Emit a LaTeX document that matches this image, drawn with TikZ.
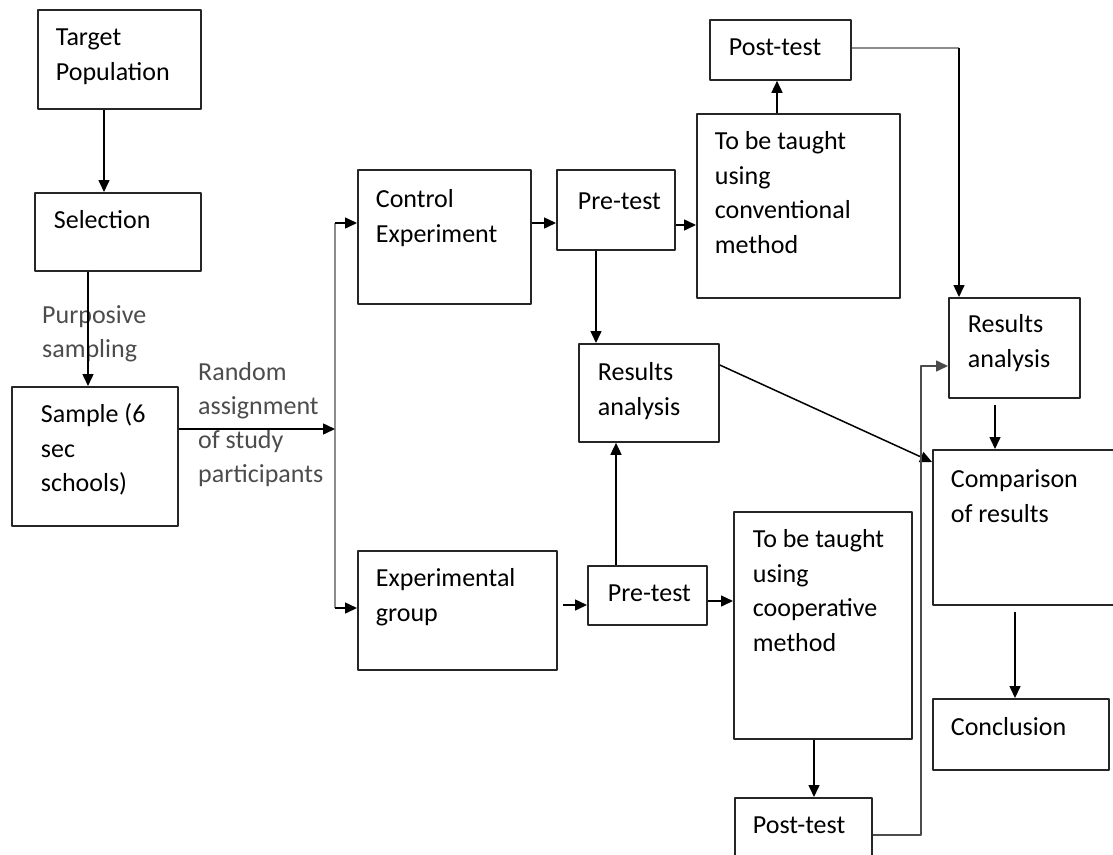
\documentclass[tikz,border=0pt]{standalone}
\usepackage{fontspec}
\setmainfont{Carlito}
\usetikzlibrary{arrows.meta}
\newcommand{\stagefont}{\fontsize{26}{34.5}\selectfont}
\newcommand{\notefont}{\fontsize{26}{34}\selectfont}
% width, height, left inset, first baseline, text
\newcommand{\stagetext}[5]{\parbox[t][#2pt][t]{#1pt}{\leftskip=#3pt\relax\rule{0pt}{#4pt}#5}}
\tikzset{
  stage/.style={draw=black!85,line width=1.8pt,anchor=north west,inner sep=0pt,font=\stagefont},
  note/.style={text=black!70,inner sep=0pt,anchor=base west,font=\notefont},
  link/.style={line width=1.5pt,->},
  rail/.style={line width=2.6pt,draw=black!45},
}
\begin{document}
\begin{tikzpicture}[x=1pt,y=-1pt,line join=round,>={Triangle[length=12pt,width=11pt]}]
\useasboundingbox (0,0) rectangle (1113,854);
% left column
\node[stage] (tp) at (37,9) {\stagetext{163}{99}{18}{36}{Target\\Population}};
\node[stage] (sel) at (34,192) {\stagetext{166}{78}{19}{36}{Selection}};
\node[stage] (smp) at (11,386) {\stagetext{166}{139}{29}{36}{Sample (6\\sec\\schools)}};
\node[note] (purp) at (42,323) {\parbox[t]{150pt}{Purposive\\sampling}};
\node[note] (rand) at (198,380) {\parbox[t]{150pt}{Random\\assignment\\of study\\participants}};
% control branch
\node[stage] (ctl) at (357,169) {\stagetext{173}{134}{18}{38}{Control\\Experiment}};
\node[stage] (pre1) at (556,169) {\stagetext{118}{80}{21}{40}{Pre-test}};
\node[stage] (conv) at (696,113) {\stagetext{203}{184}{18}{36}{To be taught\\using\\conventional\\method}};
\node[stage] (post1) at (709,19) {\stagetext{141}{60}{19}{36}{Post-test}};
\node[stage] (res1) at (578,343) {\stagetext{140}{98}{19}{37}{Results\\analysis}};
% experimental branch
\node[stage] (expg) at (357,550) {\stagetext{199}{119}{18}{36}{Experimental\\group}};
\node[stage] (pre2) at (587,565) {\stagetext{119}{59}{20}{36}{Pre-test}};
\node[stage] (coop) at (733,511) {\stagetext{178}{227}{19}{36}{To be taught\\using\\cooperative\\method}};
\node[stage] (post2) at (734,797) {\stagetext{137}{70}{18}{36}{Post-test}};
% right column
\node[stage] (res2) at (948,297) {\stagetext{131}{100}{19}{35}{Results\\analysis}};
\node[stage] (cmp) at (932,449) {\stagetext{190}{155}{18}{38}{Comparison\\of results}};
\node[stage] (ccl) at (932,698) {\stagetext{176}{71}{18}{37}{Conclusion}};
% connectors
\path (335,429) coordinate (fork)
      (335,223) coordinate (railtop)
      (335,608) coordinate (railbot)
      (959,48) coordinate (bend);
\draw[link] (tp.south -| 104,0) -- (sel.north -| 104,0);
\draw[link] (sel.south -| 88,0) -- (smp.north -| 88,0);
\draw[rail] (railtop) -- (railbot);
\draw[link] (smp.east |- fork) -- (fork);
\draw[link] (railtop) -- (railtop -| ctl.west);
\draw[link] (railbot) -- (railbot -| expg.west);
\draw[link] (ctl.east |- 0,223) -- (pre1.west |- 0,223);
\draw[link] (pre1.east |- 0,225) -- (conv.west |- 0,225);
\draw[link] (pre1.south -| 596,0) -- (res1.north -| 596,0);
\draw[link] (conv.north -| 777,0) -- (post1.south -| 777,0);
\draw[rail,line width=2pt] (post1.east |- bend) -- (bend);
\draw[link] (bend) -- (res2.north -| bend);
\draw[link] (res1.east |- 0,365) -- (cmp.west |- 0,462);
\draw[link,shorten <=5pt] (expg.east |- 0,605) -- (pre2.west |- 0,605);
\draw[link] (pre2.north -| 616,0) -- (res1.south -| 616,0);
\draw[link] (pre2.east |- 0,601) -- (coop.west |- 0,601);
\draw[link] (coop.south -| 814,0) -- (post2.north -| 814,0);
\draw[link,draw=black!70] (post2.east |- 0,835) -- (921,835) -- (921,366) -- (res2.west |- 0,366);
\draw[link,shorten <=6pt] (res2.south -| 995,0) -- (cmp.north -| 995,0);
\draw[link,shorten <=6pt] (cmp.south -| 1015,0) -- (ccl.north -| 1015,0);
\end{tikzpicture}
\end{document}
